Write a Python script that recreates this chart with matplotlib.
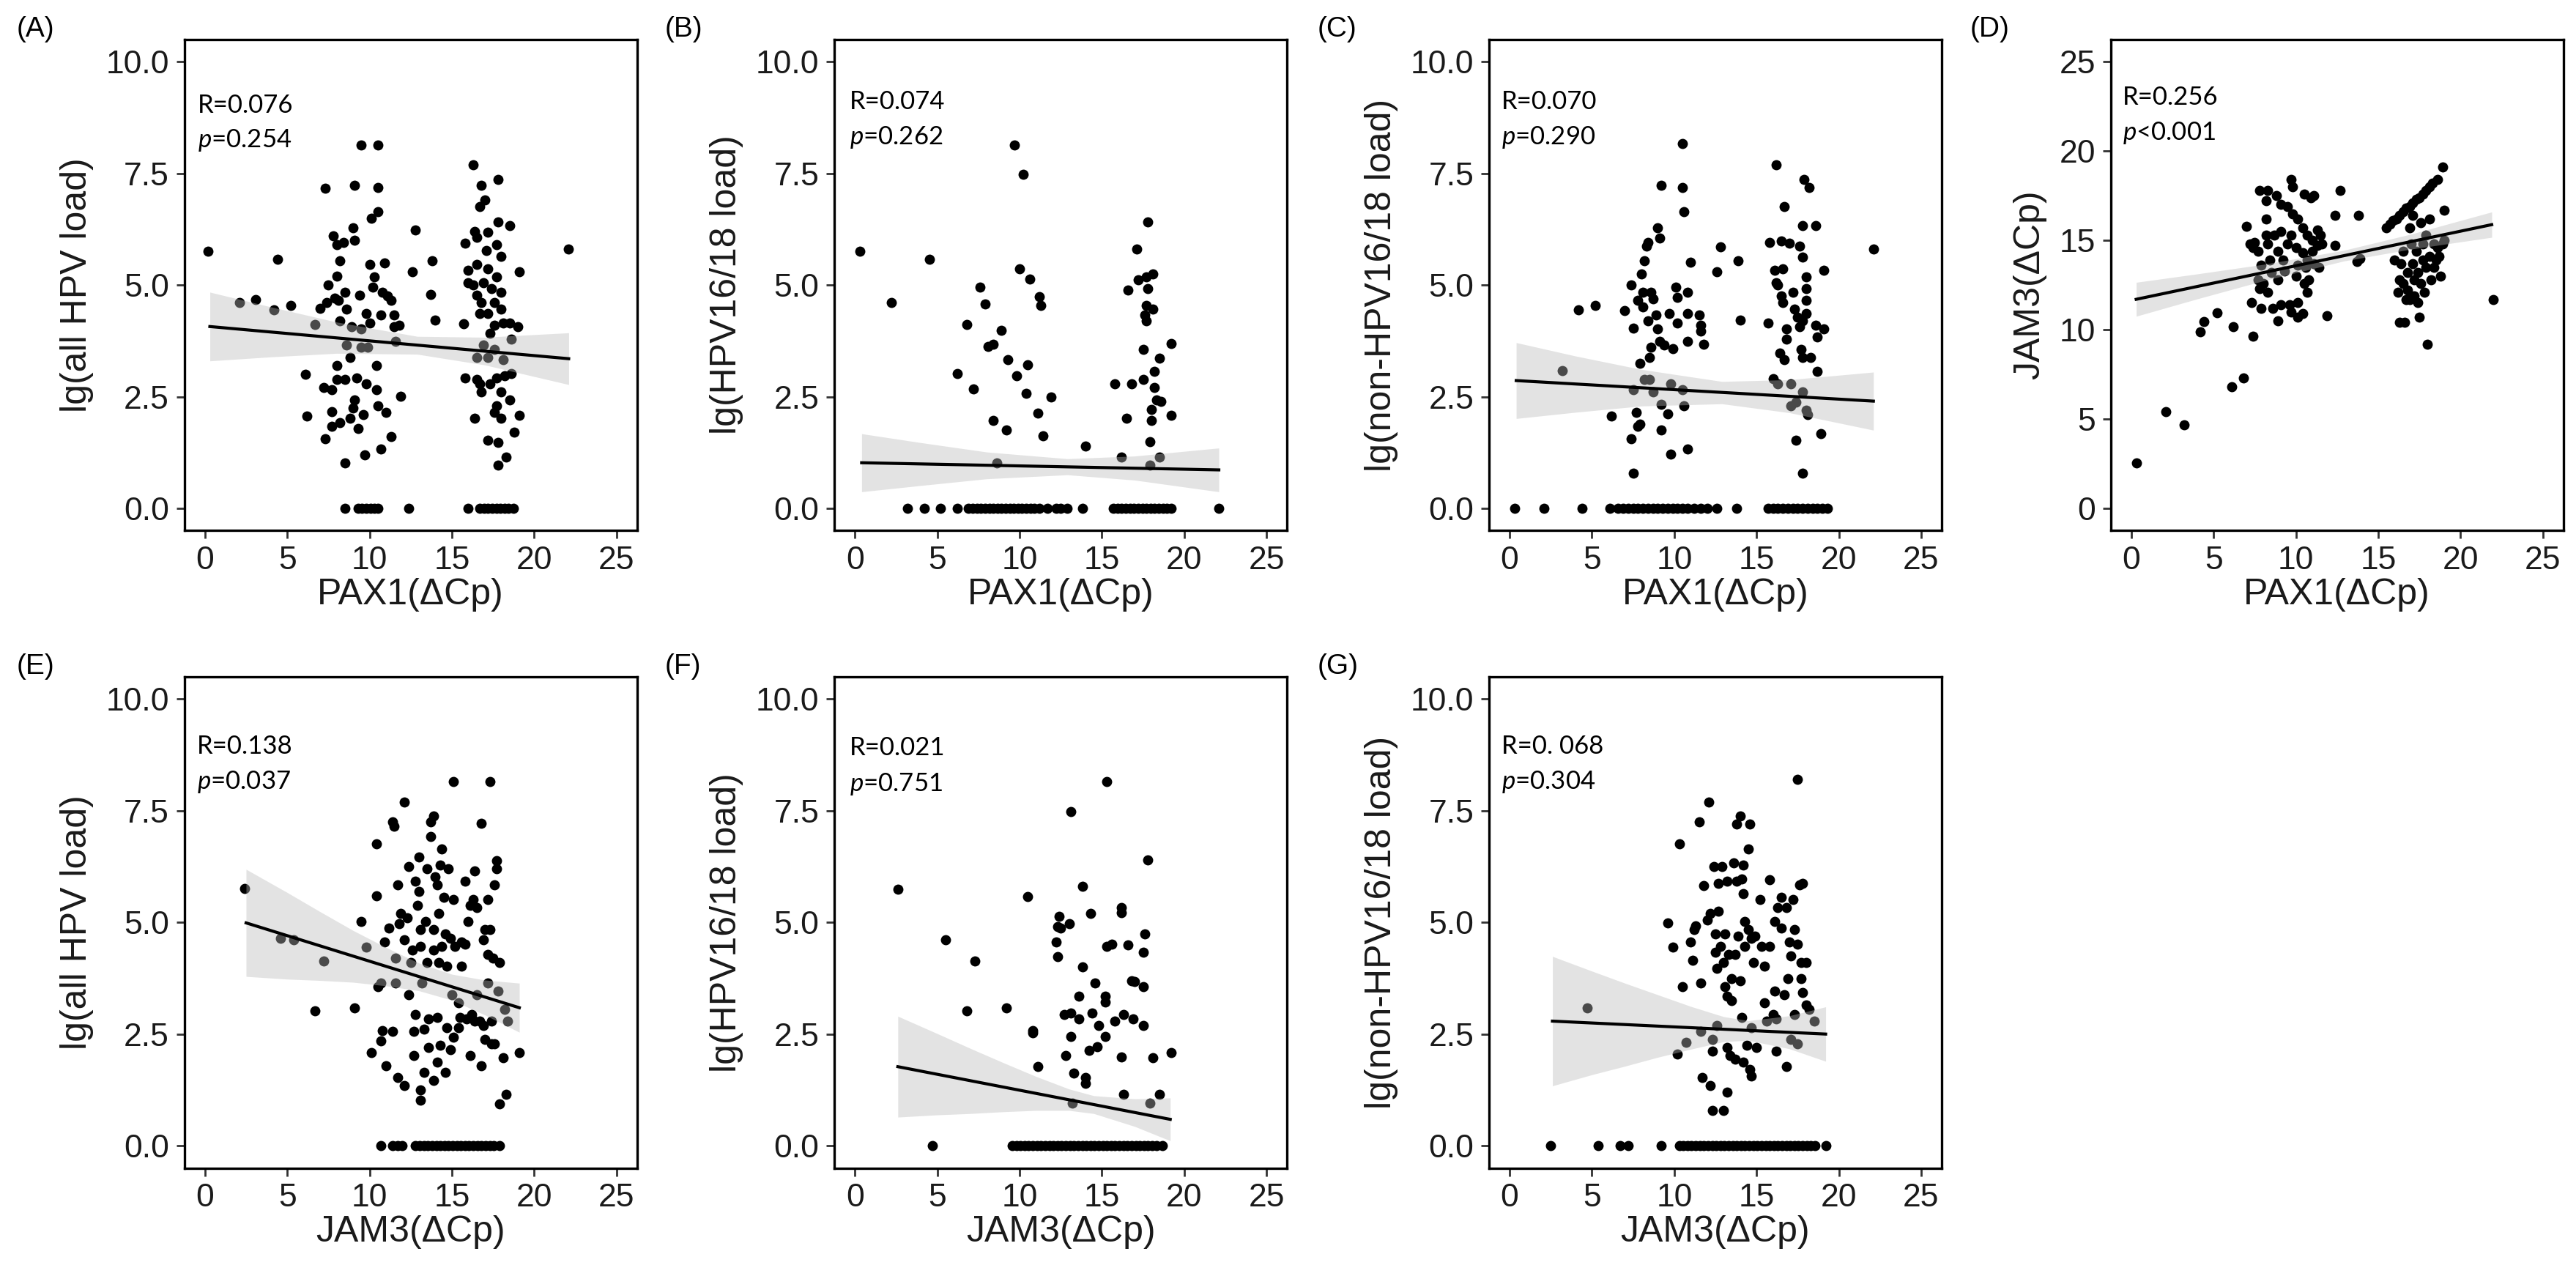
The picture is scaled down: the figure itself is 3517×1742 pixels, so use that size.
import matplotlib
matplotlib.use('Agg')
from matplotlib import pyplot as plt

plt.rcParams['mathtext.fontset'] = 'custom'
plt.rcParams['mathtext.it'] = 'Lato:italic'
plt.rcParams['mathtext.rm'] = 'Lato'

# ---- data ----
panel_tags = ['(A)', '(B)', '(C)', '(D)', '(E)', '(F)', '(G)']
x_titles = ['PAX1(ΔCp)', 'PAX1(ΔCp)', 'PAX1(ΔCp)', 'PAX1(ΔCp)',
            'JAM3(ΔCp)', 'JAM3(ΔCp)', 'JAM3(ΔCp)']
y_titles = ['lg(all HPV load)', 'lg(HPV16/18 load)', 'lg(non-HPV16/18 load)', 'JAM3(ΔCp)',
            'lg(all HPV load)', 'lg(HPV16/18 load)', 'lg(non-HPV16/18 load)']
r_texts = ['R=0.076', 'R=0.074', 'R=0.070', 'R=0.256', 'R=0.138', 'R=0.021', 'R=0. 068']
p_texts = ['=0.254', '=0.262', '=0.290', '<0.001', '=0.037', '=0.751', '=0.304']

a_pts = [(0.2, 5.75), (2.1, 4.6), (3.1, 4.67), (4.4, 5.57), (4.2, 4.45), (5.2, 4.54), (6.1, 3.0),
         (6.2, 2.06), (6.7, 4.12), (7.3, 7.16), (7.0, 4.47), (7.2, 2.7), (7.3, 1.56), (7.5, 5.0),
         (7.4, 4.6), (7.7, 2.66), (7.7, 2.16), (7.8, 6.1), (8.0, 5.9), (8.0, 5.2), (8.2, 5.55),
         (7.9, 4.7), (8.1, 4.65), (8.2, 4.19), (8.0, 3.19), (8.0, 2.88), (7.7, 1.83), (8.2, 1.92),
         (8.4, 5.95), (8.5, 4.83), (8.6, 4.46), (8.6, 3.65), (8.8, 3.38), (8.5, 2.88), (8.5, 1.02),
         (8.8, 2.01), (8.9, 4.06), (9.0, 6.28), (9.1, 6.0), (9.1, 7.23), (9.4, 4.78), (9.2, 2.92),
         (9.1, 2.42), (9.0, 2.24), (9.3, 1.79), (9.5, 4.01), (9.5, 3.6), (9.7, 1.2), (9.6, 2.1),
         (9.5, 8.14), (9.8, 4.37), (9.9, 3.6), (10.0, 4.15), (9.8, 2.79), (10.5, 8.14), (10.5, 7.19),
         (10.5, 6.64), (10.1, 6.49), (10.0, 5.46), (10.3, 5.19), (10.2, 4.96), (10.4, 3.19),
         (10.4, 2.65), (10.5, 2.29), (10.7, 1.33), (10.9, 5.5), (10.8, 4.84), (10.7, 4.33),
         (11.1, 4.75), (11.0, 2.15), (11.3, 4.65), (11.5, 4.33), (11.5, 4.06), (11.3, 1.61),
         (11.6, 3.74), (11.9, 2.51), (11.8, 4.1), (12.6, 5.3), (12.8, 6.24), (13.8, 5.54),
         (13.7, 4.79), (14.0, 4.21), (15.7, 4.14), (15.8, 5.93), (15.8, 2.92), (16.4, 2.01),
         (16.3, 7.69), (16.4, 6.2), (16.5, 6.06), (16.0, 5.33), (16.0, 5.05), (16.3, 5.0),
         (16.5, 5.46), (16.7, 6.75), (16.8, 7.23), (17.0, 6.91), (17.1, 5.78), (16.5, 4.78),
         (16.7, 4.37), (16.8, 4.6), (16.9, 5.05), (16.9, 3.65), (16.5, 3.38), (16.7, 2.79),
         (16.8, 2.6), (16.5, 2.88), (17.2, 6.19), (17.2, 5.37), (17.2, 4.37), (17.3, 3.92),
         (17.2, 3.38), (17.3, 2.79), (17.2, 1.52), (17.4, 4.92), (17.6, 4.6), (17.6, 4.1),
         (17.6, 3.56), (17.7, 5.9), (17.8, 7.37), (17.8, 6.42), (17.7, 5.19), (17.7, 2.29),
         (17.6, 2.15), (17.7, 2.92), (18.0, 5.64), (18.0, 4.84), (18.0, 4.46), (18.0, 2.6),
         (18.0, 2.01), (17.8, 1.47), (17.8, 0.97), (18.1, 4.15), (18.1, 3.33), (18.2, 2.96),
         (18.5, 6.33), (18.5, 4.15), (18.6, 3.78), (18.5, 2.42), (18.3, 1.15), (18.6, 3.01),
         (19.0, 4.06), (19.1, 5.3), (18.8, 1.7), (19.1, 2.09), (22.1, 5.81)]
a_zero_x = [8.5, 9.3, 9.55, 9.8, 10.05, 10.3, 10.5, 12.4, 16.0, 16.7, 16.95, 17.2, 17.45, 17.7,
            17.95, 18.2, 18.45, 18.75]

b_pts = [(0.3, 5.75), (2.2, 4.6), (4.5, 5.57), (6.2, 3.01), (6.8, 4.12), (7.2, 2.68), (7.6, 4.95),
         (7.9, 4.57), (8.1, 3.63), (8.4, 3.67), (8.4, 1.97), (8.6, 1.02), (8.9, 3.99), (9.2, 1.76),
         (9.3, 3.33), (9.7, 8.14), (9.8, 2.97), (10.0, 5.37), (10.2, 7.48), (10.4, 2.58),
         (10.5, 3.21), (10.6, 5.14), (11.1, 2.13), (11.2, 4.74), (11.3, 4.54), (11.4, 1.62),
         (11.9, 2.5), (14.0, 1.4), (15.8, 2.79), (16.2, 1.15), (16.5, 2.01), (16.6, 4.89),
         (16.8, 2.79), (17.1, 5.81), (17.2, 5.12), (17.5, 2.88), (17.5, 3.56), (17.6, 4.33),
         (17.7, 4.19), (17.7, 5.19), (17.8, 6.42), (17.8, 4.92), (17.7, 4.54), (17.9, 1.49),
         (18.0, 1.97), (18.1, 5.24), (18.1, 4.46), (18.0, 2.21), (17.9, 0.97), (18.2, 3.06),
         (18.2, 2.7), (18.3, 2.42), (18.5, 3.36), (18.6, 2.4), (18.5, 1.15), (19.2, 3.69),
         (19.2, 2.09)]
b_zero_x = [3.2, 4.2, 5.2, 6.2, 6.9, 7.15, 7.4, 7.65, 7.9, 8.15, 8.4, 8.65, 8.9, 9.15, 9.4, 9.65,
            9.9, 10.15, 10.4, 10.65, 10.9, 11.2, 11.7, 12.2, 12.5, 12.9, 13.8, 15.7, 15.95, 16.2,
            16.45, 16.7, 16.95, 17.2, 17.45, 17.7, 17.95, 18.2, 18.45, 18.7, 18.95, 19.2, 22.1]

c_pts = [(3.2, 3.08), (4.2, 4.45), (5.2, 4.54), (6.2, 2.06), (7.0, 4.42), (7.4, 1.56), (7.5, 0.79),
         (7.5, 2.65), (7.4, 5.0), (7.5, 4.03), (7.7, 2.15), (7.8, 1.83), (7.9, 1.88), (7.8, 4.65),
         (7.9, 3.24), (8.0, 5.24), (8.1, 4.83), (8.1, 4.51), (8.2, 2.88), (8.2, 5.55), (8.3, 5.87),
         (8.4, 5.96), (8.4, 4.19), (8.5, 2.88), (8.6, 4.83), (8.5, 3.38), (8.6, 3.6), (8.7, 4.69),
         (8.7, 2.6), (8.9, 4.33), (9.0, 6.28), (9.1, 6.05), (9.2, 7.23), (9.1, 3.74), (9.0, 4.01),
         (9.2, 2.33), (9.2, 1.76), (9.4, 3.65), (9.6, 2.11), (9.7, 4.37), (9.8, 1.22), (9.8, 2.79),
         (9.9, 3.58), (10.1, 4.96), (10.2, 4.72), (10.2, 4.15), (10.5, 8.17), (10.5, 7.19),
         (10.6, 6.64), (10.5, 2.65), (10.6, 2.3), (10.8, 4.83), (10.8, 3.74), (10.8, 1.33),
         (10.8, 4.37), (11.0, 5.51), (11.5, 4.33), (11.6, 4.1), (11.6, 3.97), (11.8, 3.67),
         (12.6, 5.3), (12.8, 5.85), (13.9, 5.54), (14.0, 4.21), (15.8, 5.96), (15.7, 4.15),
         (16.0, 2.9), (16.3, 2.79), (16.2, 7.69), (16.7, 6.75), (16.5, 5.99), (16.1, 5.33),
         (16.2, 5.05), (16.3, 5.0), (16.6, 5.37), (16.5, 4.75), (16.6, 4.6), (16.8, 4.01),
         (16.4, 3.47), (16.7, 3.33), (16.8, 3.78), (17.1, 2.79), (17.0, 5.93), (17.2, 4.83),
         (17.3, 4.46), (17.1, 2.29), (17.4, 1.52), (17.6, 5.87), (17.8, 5.63), (17.5, 4.28),
         (17.6, 4.06), (17.4, 2.38), (17.9, 7.37), (18.2, 7.19), (17.8, 6.33), (18.0, 5.19),
         (18.0, 4.92), (18.0, 4.65), (18.0, 4.37), (17.8, 4.19), (17.7, 3.56), (17.8, 3.38),
         (17.8, 2.6), (18.0, 2.2), (18.1, 2.1), (17.8, 0.79), (18.3, 3.38), (18.6, 6.33),
         (18.6, 4.1), (18.7, 3.83), (18.7, 3.06), (19.1, 5.33), (19.1, 4.01), (18.9, 1.67),
         (22.1, 5.81)]
c_zero_x = [0.3, 2.1, 4.4, 6.1, 6.6, 6.9, 7.2, 7.5, 7.8, 8.1, 8.4, 8.7, 9.0, 9.3, 9.6, 9.9, 10.2,
            10.5, 10.8, 11.2, 11.6, 12.0, 12.6, 13.8, 15.7, 16.0, 16.3, 16.6, 16.9, 17.2, 17.5,
            17.8, 18.1, 18.4, 18.7, 19.0, 19.3]

d_pts = [(0.3, 2.53), (2.1, 5.43), (3.2, 4.68), (4.2, 9.89), (4.4, 10.45), (5.2, 10.93),
         (6.2, 10.16), (6.1, 6.79), (6.8, 7.31), (7.0, 15.79), (7.4, 9.62), (7.3, 11.54),
         (7.2, 14.8), (7.4, 14.6), (7.5, 14.9), (7.7, 14.4), (7.8, 17.8), (7.9, 13.6), (7.7, 12.8),
         (7.8, 12.3), (8.0, 12.6), (7.9, 11.2), (8.2, 17.2), (8.3, 17.8), (8.2, 15.3), (8.3, 14.8),
         (8.2, 16.2), (8.4, 13.9), (8.5, 13.2), (8.3, 12.1), (8.6, 11.2), (8.7, 15.3), (8.8, 17.5),
         (8.9, 14.4), (8.9, 12.8), (8.9, 10.5), (9.1, 17.0), (9.1, 15.5), (9.2, 13.9), (9.1, 11.4),
         (9.3, 13.3), (9.5, 16.9), (9.5, 14.8), (9.6, 11.4), (9.7, 11.0), (9.7, 18.4), (9.8, 18.0),
         (9.8, 16.5), (9.7, 15.3), (10.0, 14.6), (10.1, 16.2), (10.1, 13.6), (10.0, 13.0),
         (10.1, 11.5), (10.1, 10.7), (10.4, 15.7), (10.4, 14.3), (10.5, 12.6), (10.5, 17.6),
         (10.4, 10.9), (10.7, 15.3), (10.7, 13.9), (10.6, 13.5), (10.9, 17.4), (11.1, 17.5),
         (11.0, 15.0), (11.0, 14.4), (10.8, 12.8), (10.7, 12.1), (11.1, 13.7), (11.3, 14.7),
         (11.3, 15.6), (11.5, 15.3), (11.4, 13.5), (11.6, 14.8), (11.9, 10.8), (12.4, 16.4),
         (12.4, 14.7), (12.7, 17.8), (13.7, 13.8), (13.8, 16.4), (13.9, 14.0),
         (15.5, 15.7), (15.7, 15.9), (15.9, 16.1), (16.1, 16.2), (16.3, 16.4), (16.5, 16.6),
         (16.7, 16.8), (16.9, 16.9), (17.1, 17.1), (17.3, 17.3), (17.5, 17.4), (17.7, 17.6),
         (17.9, 17.8), (18.1, 18.0), (18.3, 18.2), (18.6, 18.4), (18.9, 19.1), (19.0, 16.7),
         (16.0, 13.9), (16.3, 12.8), (16.2, 12.1), (16.4, 13.7), (16.5, 14.4), (16.5, 12.6),
         (16.6, 10.4), (16.7, 11.7), (16.8, 12.2), (16.8, 13.2), (16.9, 15.7), (17.1, 16.4),
         (17.0, 14.8), (17.1, 13.7), (17.2, 12.8), (17.2, 11.9), (17.3, 14.4), (17.4, 13.2),
         (17.4, 11.5), (17.5, 10.7), (17.6, 12.6), (17.6, 16.0), (17.7, 14.8), (17.7, 13.9),
         (17.8, 12.1), (17.9, 15.3), (17.9, 13.5), (18.0, 9.2), (18.1, 16.2), (18.1, 14.1),
         (18.2, 12.8), (18.4, 14.8), (18.4, 13.5), (18.5, 13.9), (18.6, 14.6), (18.7, 14.1),
         (18.9, 14.8), (19.0, 15.0), (18.8, 13.0), (16.3, 10.4), (16.9, 11.7), (22.0, 11.7)]
d_zero_x = []

e_pts = [(2.4, 5.76), (4.6, 4.65), (5.4, 4.61), (6.7, 3.02), (7.2, 4.13), (9.1, 3.09), (9.5, 5.02),
         (9.8, 4.45), (10.4, 6.76), (10.4, 5.59), (10.1, 2.09), (10.5, 3.56), (10.7, 2.34),
         (10.8, 2.58), (10.7, 3.65), (10.9, 4.56), (11.0, 1.79), (11.2, 4.88), (11.4, 7.25),
         (11.5, 7.15), (11.6, 4.2), (11.4, 2.56), (11.6, 3.65), (11.7, 1.52), (11.7, 5.84),
         (11.8, 4.97), (11.9, 5.2), (12.1, 7.7), (12.1, 4.61), (12.1, 1.34), (12.3, 5.11),
         (12.4, 6.25), (12.4, 3.38), (12.5, 4.11), (12.6, 4.38), (12.7, 2.56), (12.7, 2.02),
         (12.8, 2.93), (12.8, 5.93), (12.9, 5.38), (13.0, 6.47), (13.0, 5.7), (13.1, 4.84),
         (13.1, 4.47), (13.1, 1.02), (13.1, 1.25), (13.2, 3.65), (13.3, 1.65), (13.3, 2.61),
         (13.4, 5.02), (13.5, 4.11), (13.5, 6.2), (13.6, 2.2), (13.6, 2.84), (13.7, 6.93),
         (13.7, 7.25), (13.9, 7.38), (13.9, 4.84), (13.9, 4.38), (13.9, 1.47), (14.0, 6.02),
         (14.1, 1.88), (14.1, 2.88), (14.1, 5.84), (14.2, 4.11), (14.2, 5.2), (14.3, 6.29),
         (14.3, 2.25), (14.4, 4.47), (14.4, 6.65), (14.5, 5.56), (14.6, 1.65), (14.6, 4.75),
         (14.7, 2.65), (14.7, 4.02), (14.8, 6.2), (14.9, 4.65), (14.9, 2.15), (15.0, 3.38),
         (15.1, 2.43), (15.1, 8.15), (15.1, 5.52), (15.2, 4.47), (15.4, 3.2), (15.4, 2.65),
         (15.5, 2.88), (15.6, 4.02), (15.6, 4.56), (15.8, 5.93), (15.8, 4.52), (15.9, 2.84),
         (16.0, 5.02), (16.1, 5.38), (16.1, 2.02), (16.2, 2.93), (16.3, 5.52), (16.4, 6.15),
         (16.4, 2.79), (16.5, 3.38), (16.5, 5.34), (16.7, 2.79), (16.8, 1.79), (16.8, 7.22),
         (16.9, 2.7), (16.9, 4.61), (17.0, 4.84), (17.0, 2.38), (17.2, 5.52), (17.2, 3.65),
         (17.3, 8.15), (17.4, 2.29), (17.4, 2.79), (17.5, 4.2), (17.6, 5.84), (17.6, 2.29),
         (17.7, 6.38), (17.7, 6.2), (17.8, 3.47), (17.9, 0.93), (17.9, 4.11), (18.1, 1.97),
         (18.2, 3.06), (18.3, 1.15), (18.4, 2.79), (19.1, 2.09), (17.3, 4.84), (17.2, 4.29)]
e_zero_x = [10.7, 11.4, 11.7, 12.0, 12.8, 13.05, 13.3, 13.55, 13.8, 14.05, 14.3, 14.55, 14.8,
            15.05, 15.3, 15.55, 15.8, 16.05, 16.3, 16.55, 16.8, 17.05, 17.3, 17.55, 17.9]

f_pts = [(2.6, 5.75), (5.5, 4.61), (6.8, 3.02), (7.3, 4.13), (9.2, 3.08), (10.5, 5.58),
         (10.8, 2.52), (10.8, 2.58), (11.1, 1.77), (12.2, 4.56), (12.3, 4.23), (12.3, 4.91),
         (12.4, 5.13), (12.5, 4.88), (12.7, 2.93), (12.8, 2.02), (13.0, 4.97), (13.1, 2.45),
         (13.1, 7.49), (13.1, 2.97), (13.2, 0.95), (13.3, 1.63), (13.6, 2.84), (13.6, 3.34),
         (13.8, 4.0), (13.8, 5.81), (14.0, 1.52), (14.0, 1.4), (14.2, 2.14), (14.3, 5.2),
         (14.4, 2.97), (14.6, 3.64), (14.7, 2.22), (14.8, 2.7), (15.2, 2.45), (15.2, 3.34),
         (15.2, 3.22), (15.3, 8.15), (15.3, 4.47), (15.6, 4.52), (15.8, 2.79), (16.2, 5.34),
         (16.2, 5.22), (16.2, 1.99), (16.3, 1.15), (16.3, 2.93), (16.6, 4.5), (16.8, 3.7),
         (17.0, 3.67), (16.9, 2.84), (17.5, 2.7), (17.5, 3.56), (17.5, 4.34), (17.6, 4.75),
         (17.8, 6.4), (17.9, 0.95), (18.1, 1.97), (18.5, 1.15), (19.2, 2.09)]
f_zero_x = [4.7, 9.55, 9.8, 10.05, 10.3, 10.55, 10.8, 11.05, 11.3, 11.55, 11.8, 12.05, 12.3,
            12.55, 12.8, 13.05, 13.3, 13.55, 13.8, 14.05, 14.3, 14.55, 14.8, 15.05, 15.3, 15.55,
            15.8, 16.05, 16.3, 16.55, 16.8, 17.05, 17.3, 17.55, 17.8, 18.05, 18.3, 18.65]

g_pts = [(4.7, 3.08), (9.6, 4.99), (9.9, 4.45), (10.2, 2.06), (10.3, 6.76), (10.5, 3.56),
         (10.7, 2.31), (11.0, 4.56), (11.2, 4.84), (11.1, 4.15), (11.3, 4.93), (11.5, 7.25),
         (11.6, 3.65), (11.7, 1.52), (11.8, 5.82), (11.6, 2.56), (12.0, 5.06), (12.1, 7.7),
         (12.2, 1.34), (12.2, 5.2), (12.3, 2.11), (12.3, 2.38), (12.4, 6.25), (12.5, 4.75),
         (12.5, 4.34), (12.6, 2.7), (12.6, 3.97), (12.7, 5.25), (12.7, 5.88), (12.3, 0.79),
         (12.8, 4.47), (12.9, 6.25), (13.0, 4.11), (13.0, 0.79), (13.1, 4.75), (13.1, 3.56),
         (13.2, 2.2), (13.2, 1.2), (13.2, 5.93), (13.2, 3.34), (13.3, 4.29), (13.4, 2.02),
         (13.5, 3.75), (13.5, 3.25), (13.6, 6.34), (13.7, 1.93), (13.7, 4.29), (13.8, 5.93),
         (13.8, 7.2), (13.9, 4.7), (14.0, 3.7), (14.0, 7.38), (14.1, 5.97), (14.1, 2.88),
         (14.2, 5.65), (14.2, 6.29), (14.2, 1.88), (14.3, 5.02), (14.3, 4.47), (14.4, 2.25),
         (14.5, 4.84), (14.5, 6.65), (14.6, 1.7), (14.6, 7.2), (14.7, 1.56), (14.7, 4.65),
         (14.7, 2.65), (14.8, 4.11), (14.9, 4.7), (15.0, 2.2), (15.2, 5.52), (15.3, 4.47),
         (15.5, 3.2), (15.5, 4.02), (15.6, 2.79), (15.8, 5.95), (15.8, 4.47), (16.0, 2.93),
         (16.1, 5.02), (16.1, 3.47), (16.2, 2.11), (16.2, 2.84), (16.3, 5.34), (16.5, 4.88),
         (16.5, 5.56), (16.7, 3.38), (16.8, 5.34), (16.8, 1.77), (17.0, 4.56), (16.9, 3.75),
         (17.1, 4.25), (17.1, 2.38), (17.2, 5.52), (17.3, 4.84), (17.3, 2.93), (17.5, 8.2),
         (17.5, 2.29), (17.5, 4.52), (17.6, 5.84), (17.7, 4.11), (17.7, 3.75), (17.8, 5.88),
         (17.8, 3.43), (18.0, 4.11), (18.0, 3.15), (18.2, 3.06), (18.5, 2.79)]
g_zero_x = [2.5, 5.4, 6.7, 7.2, 9.2, 10.3, 10.55, 10.8, 11.05, 11.3, 11.55, 11.8, 12.05, 12.3,
            12.55, 12.8, 13.05, 13.3, 13.55, 13.8, 14.05, 14.3, 14.55, 14.8, 15.05, 15.3, 15.55,
            15.8, 16.05, 16.3, 16.55, 16.8, 17.05, 17.3, 17.55, 17.8, 18.05, 18.3, 18.55, 19.2]

# fitted line ends and confidence band
a_fit_x = [0.3, 22.1]
a_fit_y = [4.07, 3.35]
a_band_x = [0.3, 4, 8, 12.9, 17, 22.1]
a_band_hi = [4.84, 4.51, 4.17, 3.85, 3.83, 3.93]
a_band_lo = [3.30, 3.39, 3.47, 3.45, 3.21, 2.77]

b_fit_x = [0.4, 22.1]
b_fit_y = [1.02, 0.86]
b_band_x = [0.4, 4, 8, 12.9, 17, 22.1]
b_band_hi = [1.67, 1.47, 1.26, 1.11, 1.17, 1.35]
b_band_lo = [0.37, 0.51, 0.66, 0.75, 0.63, 0.37]

c_fit_x = [0.4, 22.1]
c_fit_y = [2.86, 2.40]
c_band_x = [0.4, 4, 8, 12.9, 17, 22.1]
c_band_hi = [3.71, 3.41, 3.11, 2.84, 2.88, 3.05]
c_band_lo = [2.01, 2.15, 2.29, 2.34, 2.14, 1.75]

d_fit_x = [0.3, 21.9]
d_fit_y = [11.70, 15.88]
d_band_x = [0.3, 4, 8, 12.9, 17, 21.9]
d_band_hi = [12.65, 13.12, 13.65, 14.44, 15.35, 16.59]
d_band_lo = [10.75, 11.72, 12.73, 13.84, 14.51, 15.17]

e_fit_x = [2.5, 19.1]
e_fit_y = [4.99, 3.09]
e_band_x = [2.5, 5, 7, 9, 11, 13, 15, 17, 19.1]
e_band_hi = [6.19, 5.67, 5.24, 4.82, 4.44, 4.09, 3.84, 3.71, 3.64]
e_band_lo = [3.79, 3.73, 3.70, 3.66, 3.58, 3.47, 3.26, 2.93, 2.54]

f_fit_x = [2.6, 19.15]
f_fit_y = [1.77, 0.59]
f_band_x = [2.6, 5, 7, 9, 11, 13, 14.5, 17, 19.15]
f_band_hi = [2.90, 2.51, 2.18, 1.86, 1.55, 1.27, 1.12, 1.05, 1.07]
f_band_lo = [0.64, 0.69, 0.72, 0.76, 0.79, 0.79, 0.72, 0.43, 0.11]

g_fit_x = [2.6, 19.2]
g_fit_y = [2.79, 2.50]
g_band_x = [2.6, 5, 7, 9, 11, 13, 14.5, 17, 19.2]
g_band_hi = [4.24, 3.91, 3.64, 3.38, 3.12, 2.89, 2.80, 2.91, 3.11]
g_band_lo = [1.34, 1.59, 1.78, 1.98, 2.16, 2.33, 2.36, 2.17, 1.89]

points = [a_pts, b_pts, c_pts, d_pts, e_pts, f_pts, g_pts]
zeros = [a_zero_x, b_zero_x, c_zero_x, d_zero_x, e_zero_x, f_zero_x, g_zero_x]
fits = [(a_fit_x, a_fit_y), (b_fit_x, b_fit_y), (c_fit_x, c_fit_y), (d_fit_x, d_fit_y),
        (e_fit_x, e_fit_y), (f_fit_x, f_fit_y), (g_fit_x, g_fit_y)]
bands = [(a_band_x, a_band_lo, a_band_hi), (b_band_x, b_band_lo, b_band_hi),
         (c_band_x, c_band_lo, c_band_hi), (d_band_x, d_band_lo, d_band_hi),
         (e_band_x, e_band_lo, e_band_hi), (f_band_x, f_band_lo, f_band_hi),
         (g_band_x, g_band_lo, g_band_hi)]

# ---- layout (figure pixels -> fractions) ----
W, H = 3517, 1742
fig = plt.figure(figsize=(W / 100, H / 100), dpi=100)
col_left = [251.7, 1139.3, 2033.0, 2881.7]
row_top = [53.8, 924.0]
box_w, box_h = 618.0, 670.6
tag_x = [23, 908, 1799, 2690]
tag_y = [40, 910]
ann_pos = [(0.029, 0.851, 0.781), (0.033, 0.858, 0.786), (0.028, 0.858, 0.786),
           (0.026, 0.867, 0.795), (0.028, 0.844, 0.772), (0.033, 0.840, 0.767),
           (0.028, 0.844, 0.772)]

for i in range(7):
    row, col = (0, i) if i < 4 else (1, i - 4)
    left = col_left[col] / W
    bottom = 1 - (row_top[row] + box_h) / H
    ax = fig.add_axes([left, bottom, box_w / W, box_h / H])

    xs = [p[0] for p in points[i]] + zeros[i]
    ys = [p[1] for p in points[i]] + [0.0] * len(zeros[i])
    ax.scatter(xs, ys, s=100, color='black', linewidths=0, zorder=2)

    bx, blo, bhi = bands[i]
    ax.fill_between(bx, blo, bhi, color='#bbbbbb', alpha=0.4, linewidth=0, zorder=3)
    fx, fy = fits[i]
    ax.plot(fx, fy, color='black', linewidth=3.0, zorder=4)

    ax.set_xlim(-1.25, 26.25)
    ax.set_xticks([0, 5, 10, 15, 20, 25])
    if i == 3:
        ax.set_ylim(-1.25, 26.25)
        ax.set_yticks([0, 5, 10, 15, 20, 25])
        ax.set_yticklabels(['0', '5', '10', '15', '20', '25'])
    else:
        ax.set_ylim(-0.5, 10.5)
        ax.set_yticks([0, 2.5, 5, 7.5, 10])
        ax.set_yticklabels(['0.0', '2.5', '5.0', '7.5', '10.0'])

    for sp in ax.spines.values():
        sp.set_linewidth(2.4)
        sp.set_color('black')
    ax.tick_params(length=8, width=2, color='#333333', pad=7, labelcolor='#1a1a1a')
    for lab in ax.get_xticklabels() + ax.get_yticklabels():
        lab.set_fontfamily('Liberation Sans')
        lab.set_fontsize(32)

    ax.set_xlabel(x_titles[i], fontfamily='Liberation Sans', fontsize=36, labelpad=2,
                  color='#1a1a1a')
    ax.set_ylabel(y_titles[i], fontfamily='Liberation Sans', fontsize=36, labelpad=12,
                  color='#1a1a1a')

    tx, ty1, ty2 = ann_pos[i]
    ax.text(tx, ty1, r_texts[i], transform=ax.transAxes, fontfamily='Lato', fontsize=25,
            va='baseline', ha='left')
    ax.text(tx, ty2, r'$\mathit{p}$' + p_texts[i], transform=ax.transAxes, fontfamily='Lato',
            fontsize=25, va='baseline', ha='left')

    fig.text(tag_x[col] / W, 1 - tag_y[row] / H, panel_tags[i], fontfamily='Liberation Sans',
             fontsize=28, va='center', ha='left')

fig.savefig('out.png', dpi=100)
